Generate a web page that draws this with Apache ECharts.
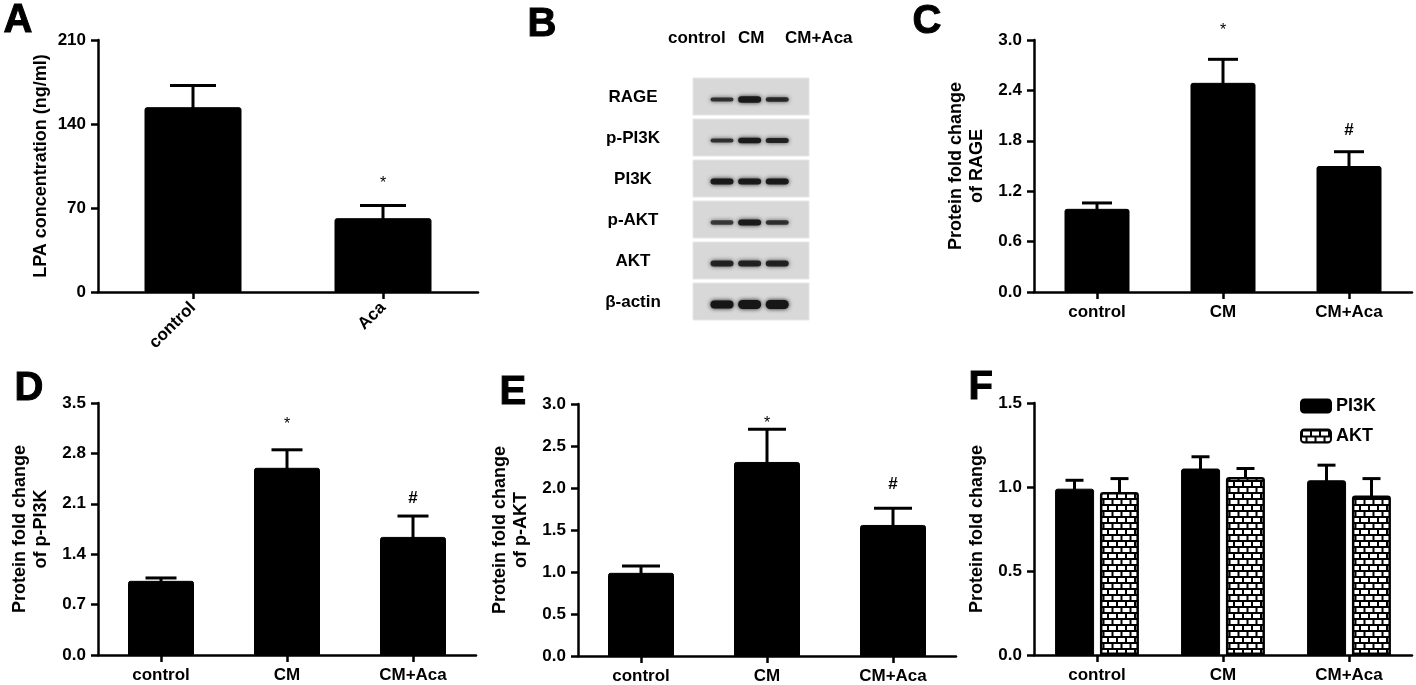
<!DOCTYPE html>
<html>
<head>
<meta charset="utf-8">
<script src="https://cdn.jsdelivr.net/npm/echarts@6/dist/echarts.min.js"></script>
<style>
  html, body { margin: 0; padding: 0; background: #fff; }
  #chart { width: 1416px; height: 685px; }
</style>
</head>
<body>
<div id="chart"></div>
<script>
// ---------------- DATA ----------------
// Panel A
const catsA = ['control', 'Aca'];
const lpaMean = [154, 61.5];
const lpaUpper = [172, 72];
const sigA = ['', '*'];
const sigAAt = [0, 93];
const ticksA = { min: 0, max: 210, interval: 70 };

// Groups for C, D, E, F
const groups = ['control', 'CM', 'CM+Aca'];

// Panel C - RAGE
const rageMean = [0.99, 2.49, 1.50];
const rageUpper = [1.06, 2.77, 1.67];
const sigC = ['', '*', '#'];
const sigCAt = [0, 3.15, 1.93];

// Panel D - p-PI3K
const ppi3kMean = [1.03, 2.60, 1.64];
const ppi3kUpper = [1.07, 2.85, 1.93];
const sigD = ['', '*', '#'];
const sigDAt = [0, 3.24, 2.18];

// Panel E - p-AKT
const paktMean = [0.99, 2.31, 1.56];
const paktUpper = [1.07, 2.70, 1.76];
const sigE = ['', '*', '#'];
const sigEAt = [0, 2.80, 2.04];

// Panel F - PI3K and AKT
const pi3kMean = [0.99, 1.11, 1.04];
const pi3kUpper = [1.04, 1.18, 1.13];
const aktMean = [0.97, 1.06, 0.95];
const aktUpper = [1.05, 1.11, 1.05];

// Panel B - western blot
const blotRows = ['RAGE', 'p-PI3K', 'PI3K', 'p-AKT', 'AKT', 'β-actin'];
const blotLanePos = [1, 2, 3];
const blotLaneNames = ['control', 'CM', 'CM+Aca'];
const bandThickness = [
  [4, 6.5, 4.5],
  [4, 5.5, 5],
  [6, 6, 6],
  [4.5, 6, 4.5],
  [6, 6, 6],
  [8, 9, 9]
];
const bandDarkness = [
  [0.8, 0.95, 0.85],
  [0.8, 0.95, 0.88],
  [0.95, 0.95, 0.95],
  [0.75, 0.95, 0.8],
  [0.88, 0.88, 0.88],
  [1, 1, 1]
];

// ---------------- STYLE HELPERS ----------------
const FONT = 'Liberation Sans, Arial, Helvetica, sans-serif';
const AXW = 2.5;

function brickPattern() {
  const c = document.createElement('canvas');
  c.width = 18; c.height = 12;
  const g = c.getContext('2d');
  g.fillStyle = '#ffffff';
  g.fillRect(0, 0, 18, 12);
  g.strokeStyle = '#000000';
  g.lineWidth = 2;
  g.beginPath();
  g.moveTo(0, 1); g.lineTo(18, 1);
  g.moveTo(0, 7); g.lineTo(18, 7);
  g.moveTo(1, 1); g.lineTo(1, 7);
  g.moveTo(10, 1); g.lineTo(10, 7);
  g.moveTo(5.5, 7); g.lineTo(5.5, 12);
  g.moveTo(14.5, 7); g.lineTo(14.5, 12);
  g.stroke();
  return { image: c, repeat: 'repeat' };
}

function catX(gridIndex, data, rotate) {
  return {
    type: 'category', gridIndex, data,
    axisLine: { show: true, lineStyle: { color: '#000', width: AXW } },
    axisTick: { show: true, alignWithLabel: true, length: 7, lineStyle: { color: '#000', width: AXW } },
    axisLabel: {
      color: '#000', fontFamily: FONT, fontWeight: 'bold', fontSize: 17,
      margin: rotate ? 13 : 12, rotate: rotate || 0, interval: 0
    },
    splitLine: { show: false }
  };
}

function valY(gridIndex, min, max, interval, name, digits) {
  return {
    type: 'value', gridIndex, min, max, interval,
    name, nameLocation: 'middle', nameGap: 46, nameRotate: 90,
    nameTextStyle: { color: '#000', fontFamily: FONT, fontWeight: 'bold', fontSize: 18, lineHeight: 21 },
    axisLine: { show: true, lineStyle: { color: '#000', width: AXW } },
    axisTick: { show: true, length: 7, lineStyle: { color: '#000', width: AXW } },
    axisLabel: {
      color: '#000', fontFamily: FONT, fontWeight: 'bold', fontSize: 17, margin: 12,
      formatter: v => v.toFixed(digits)
    },
    splitLine: { show: false }
  };
}

function barSeries(name, idx, data, width, extra) {
  return Object.assign({
    type: 'bar', name, xAxisIndex: idx, yAxisIndex: idx, data,
    barWidth: width,
    itemStyle: { color: '#000', borderColor: '#000', borderWidth: 1, borderRadius: [2, 2, 0, 0] },
    emphasis: { disabled: true },
    z: 2
  }, extra || {});
}

function errSeries(idx, means, uppers, capW, offset) {
  return {
    type: 'custom', xAxisIndex: idx, yAxisIndex: idx,
    data: means.map((m, i) => [i, m, uppers[i]]),
    z: 3, silent: true,
    renderItem: function (params, api) {
      const p0 = api.coord([api.value(0), api.value(1)]);
      const p1 = api.coord([api.value(0), api.value(2)]);
      const cx = p0[0] + (offset || 0);
      return {
        type: 'group', children: [
          { type: 'line', shape: { x1: cx, y1: p0[1] + 1, x2: cx, y2: p1[1] }, style: { stroke: '#000', lineWidth: 3 } },
          { type: 'line', shape: { x1: cx - capW / 2, y1: p1[1], x2: cx + capW / 2, y2: p1[1] }, style: { stroke: '#000', lineWidth: 3 } }
        ]
      };
    }
  };
}

function sigSeries(idx, marks, at) {
  const data = [];
  marks.forEach((m, i) => { if (m) data.push([i, at[i]]); });
  return {
    type: 'custom', xAxisIndex: idx, yAxisIndex: idx, data, z: 4, silent: true,
    renderItem: function (params, api) {
      const i = api.value(0);
      const p = api.coord([i, api.value(1)]);
      const t = marks[i];
      const star = t === '*';
      return {
        type: 'text',
        style: {
          x: p[0], y: p[1] + (star ? 3 : 0), text: t,
          fill: '#000', align: 'center', verticalAlign: 'middle',
          font: (star ? 'normal 16px ' : 'bold 17px ') + FONT
        }
      };
    }
  };
}

function letter(t, x, y) {
  return { type: 'text', left: x, top: y - 20, style: { text: t, fill: '#000', font: 'bold 40px ' + FONT, stroke: '#000', lineWidth: 1 } };
}

// ---------------- OPTION ----------------
const grids = [
  { left: 98, top: 40, width: 380, height: 252 },    // A
  { left: 693, top: 77, width: 116, height: 246 },   // B blot
  { left: 1034, top: 40, width: 378, height: 252 },  // C
  { left: 98, top: 403, width: 378, height: 252 },   // D
  { left: 578, top: 404, width: 378, height: 252 },  // E
  { left: 1034, top: 403, width: 378, height: 252 }  // F
].map(g => Object.assign({ containLabel: false, outerBoundsMode: 'none' }, g));

const xAxes = [
  catX(0, catsA, 45),
  { type: 'value', gridIndex: 1, min: -0.05, max: 4.15, show: false },
  catX(2, groups),
  catX(3, groups),
  catX(4, groups),
  catX(5, groups)
];

const yAxes = [
  valY(0, ticksA.min, ticksA.max, ticksA.interval, 'LPA concentration (ng/ml)', 0),
  {
    type: 'category', gridIndex: 1, data: blotRows, inverse: true,
    axisLine: { show: false }, axisTick: { show: false }, splitLine: { show: false },
    axisLabel: { color: '#000', fontFamily: FONT, fontWeight: 'bold', fontSize: 17, align: 'center', margin: 60 }
  },
  valY(2, 0, 3.0, 0.6, 'Protein fold change\nof RAGE', 1),
  valY(3, 0, 3.5, 0.7, 'Protein fold change\nof p-PI3K', 1),
  valY(4, 0, 3.0, 0.5, 'Protein fold change\nof p-AKT', 1),
  valY(5, 0, 1.5, 0.5, 'Protein fold change', 1)
];

// blot data
const boxData = blotRows.map((r, i) => [0, i]);
const bandData = [];
blotRows.forEach((r, ri) => {
  blotLanePos.forEach((lp, li) => {
    bandData.push([lp, ri, bandThickness[ri][li], bandDarkness[ri][li]]);
  });
});

const series = [
  // A
  barSeries('LPA', 0, lpaMean, 97),
  errSeries(0, lpaMean, lpaUpper, 46, 0),
  sigSeries(0, sigA, sigAAt),
  // B boxes
  {
    type: 'custom', xAxisIndex: 1, yAxisIndex: 1, data: boxData, silent: true, z: 1,
    renderItem: function (params, api) {
      const cs = params.coordSys;
      const c = api.coord([0, api.value(1)]);
      const bh = api.size([0, 1])[1];
      return {
        type: 'rect',
        shape: { x: cs.x, y: c[1] - bh / 2 + 1, width: cs.width, height: bh - 4 },
        style: { fill: '#d8d8d8', stroke: '#e6e6e6', lineWidth: 1 }
      };
    }
  },
  // B bands
  {
    type: 'custom', xAxisIndex: 1, yAxisIndex: 1, data: bandData, silent: true, z: 2,
    renderItem: function (params, api) {
      const c = api.coord([api.value(0), api.value(1)]);
      const th = api.value(2), dk = api.value(3);
      const w = 23;
      const col = 'rgba(22,22,22,' + dk + ')';
      return {
        type: 'rect',
        shape: { x: c[0] - w / 2, y: c[1] + 2 - th / 2, width: w, height: th, r: th / 2 },
        style: { fill: col, shadowBlur: 4, shadowColor: col }
      };
    }
  },
  // C
  barSeries('RAGE', 2, rageMean, 65),
  errSeries(2, rageMean, rageUpper, 30, 0),
  sigSeries(2, sigC, sigCAt),
  // D
  barSeries('p-PI3K', 3, ppi3kMean, 66),
  errSeries(3, ppi3kMean, ppi3kUpper, 31, 0),
  sigSeries(3, sigD, sigDAt),
  // E
  barSeries('p-AKT', 4, paktMean, 66),
  errSeries(4, paktMean, paktUpper, 38, 0),
  sigSeries(4, sigE, sigEAt),
  // F
  barSeries('PI3K', 5, pi3kMean, 39, { barGap: '15%' }),
  barSeries('AKT', 5, aktMean, 39, {
    barGap: '15%',
    itemStyle: { color: brickPattern(), borderColor: '#000', borderWidth: 2.5, borderRadius: [2, 2, 0, 0] }
  }),
  errSeries(5, pi3kMean, pi3kUpper, 18, -22.5),
  errSeries(5, aktMean, aktUpper, 18, 22.5)
];

const option = {
  backgroundColor: '#fff',
  animation: false,
  textStyle: { fontFamily: FONT },
  grid: grids,
  xAxis: xAxes,
  yAxis: yAxes,
  legend: {
    data: ['PI3K', 'AKT'],
    orient: 'vertical', left: 1295, top: 392,
    itemWidth: 30, itemHeight: 13, itemGap: 12,
    icon: 'roundRect', selectedMode: false,
    textStyle: { color: '#000', fontFamily: FONT, fontWeight: 'bold', fontSize: 18 }
  },
  graphic: [
    letter('A', 3, 20),
    letter('B', 527, 24),
    letter('C', 912, 21),
    letter('D', 14, 388),
    letter('E', 499, 392),
    letter('F', 968, 387),
    { type: 'text', left: 668, top: 30, style: { text: blotLaneNames[0], fill: '#000', font: 'bold 17px ' + FONT } },
    { type: 'text', left: 738, top: 30, style: { text: blotLaneNames[1], fill: '#000', font: 'bold 17px ' + FONT } },
    { type: 'text', left: 785, top: 30, style: { text: blotLaneNames[2], fill: '#000', font: 'bold 17px ' + FONT } }
  ],
  series
};

const chart = echarts.init(document.getElementById('chart'), null, { renderer: 'canvas' });
chart.setOption(option);
</script>
</body>
</html>
